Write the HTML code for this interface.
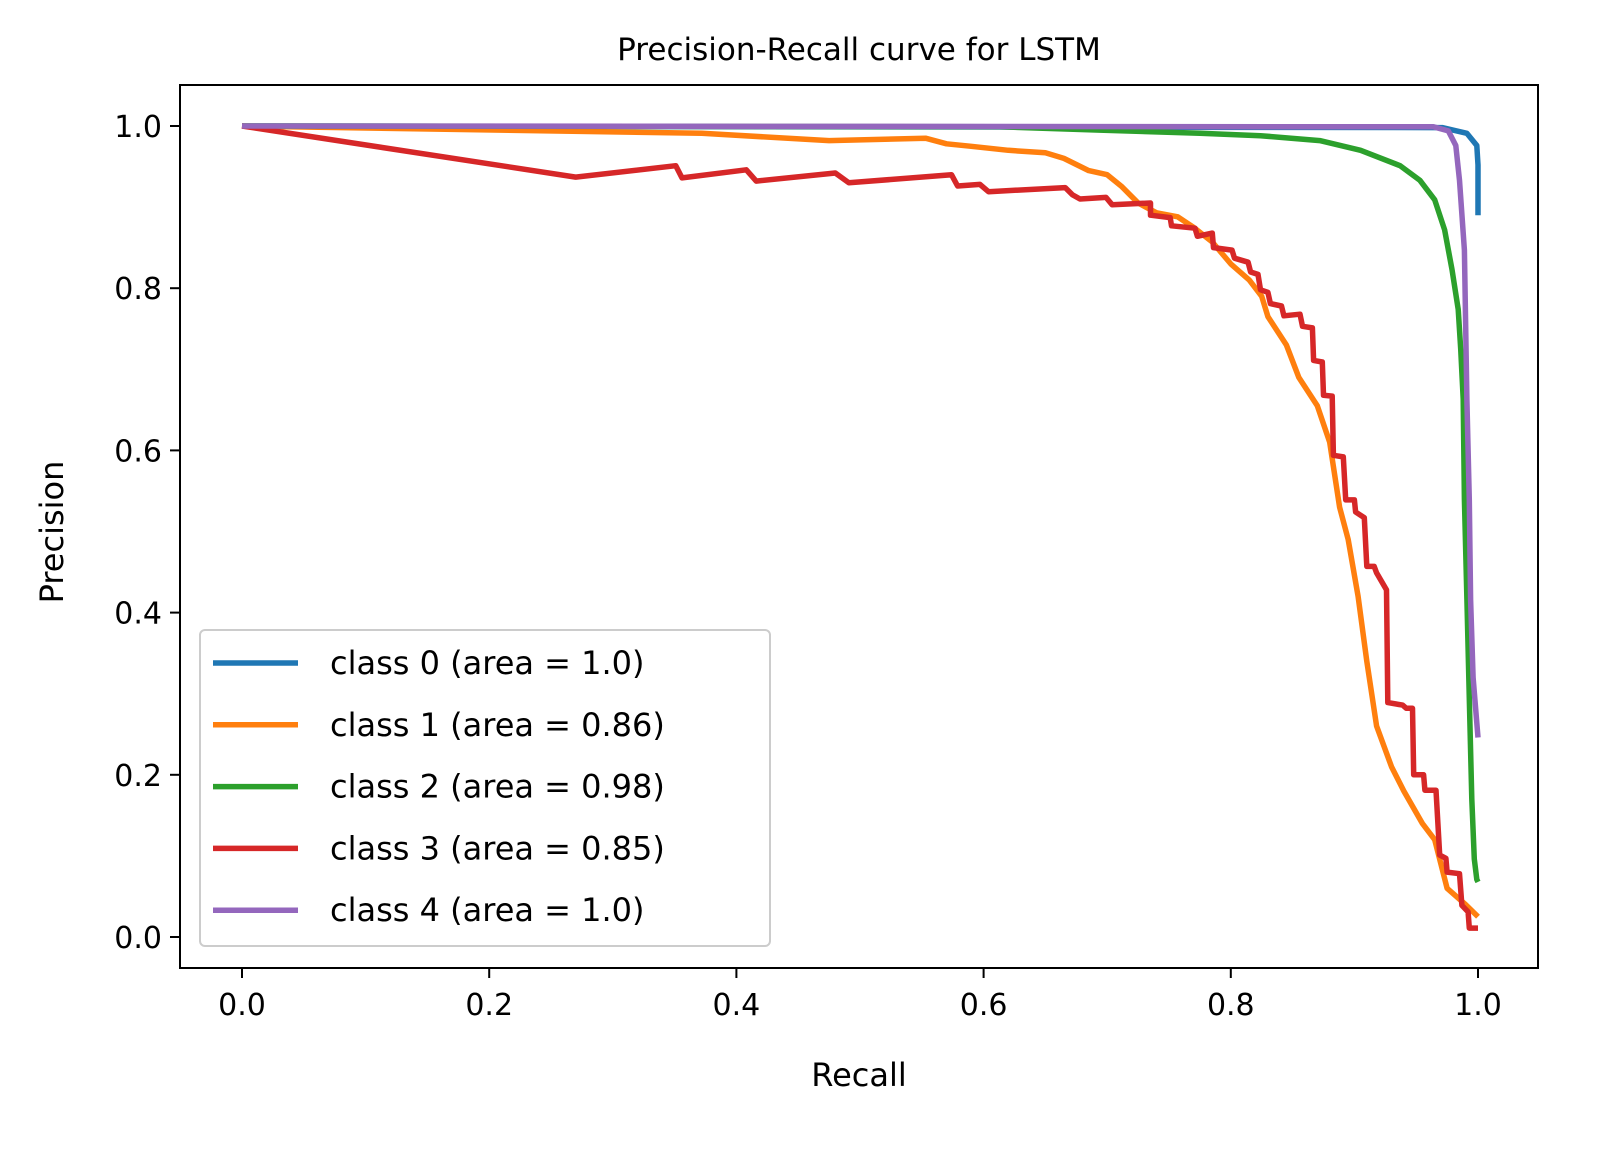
<!DOCTYPE html>
<html><head><meta charset="utf-8"><style>
html,body{margin:0;padding:0;background:#fff;}
svg{display:block;font-family:"DejaVu Sans","Liberation Sans",sans-serif;}
</style></head>
<body>
<svg id="chart" width="1609" height="1153" viewBox="0 0 1609 1153" xmlns="http://www.w3.org/2000/svg">
<rect width="1609" height="1153" fill="#fff"/>
<text x="859" y="60" font-size="31" text-anchor="middle" fill="#000">Precision-Recall curve for LSTM</text>
<text x="859" y="1086" font-size="32" text-anchor="middle" fill="#000">Recall</text>
<text x="0" y="0" font-size="32" text-anchor="middle" fill="#000" transform="translate(63,532) rotate(-90)">Precision</text>
<g id="plot"></g>
</svg>
<script>
const xTicks=[0,0.2,0.4,0.6,0.8,1.0];
const yTicks=[0,0.2,0.4,0.6,0.8,1.0];
const seriesNames=["class 0 (area = 1.0)","class 1 (area = 0.86)","class 2 (area = 0.98)","class 3 (area = 0.85)","class 4 (area = 1.0)"];
const colors=["#1f77b4","#ff7f0e","#2ca02c","#d62728","#9467bd"];
const recall0=[0,0.971,0.991,0.999,1.0,1.0];
const prec0=[1.0,0.998,0.991,0.976,0.952,0.890];
const recall1=[0,0.372,0.475,0.553,0.570,0.59,0.62,0.650,0.665,0.685,0.700,0.712,0.725,0.74,0.757,0.77,0.785,0.800,0.815,0.825,0.830,0.845,0.855,0.87,0.880,0.888,0.895,0.903,0.910,0.918,0.93,0.94,0.955,0.965,0.975,0.99,1.0];
const prec1=[1.0,0.991,0.982,0.985,0.978,0.975,0.970,0.967,0.960,0.945,0.940,0.925,0.905,0.893,0.888,0.875,0.857,0.830,0.810,0.790,0.765,0.730,0.690,0.655,0.610,0.530,0.490,0.420,0.340,0.260,0.21,0.18,0.14,0.12,0.06,0.04,0.025];
const recall2=[0,0.613,0.694,0.775,0.824,0.872,0.905,0.937,0.953,0.965,0.973,0.979,0.984,0.986,0.988,0.989,0.991,0.993,0.995,0.997,0.999,1.0];
const prec2=[1.0,0.999,0.995,0.991,0.988,0.982,0.970,0.951,0.933,0.909,0.872,0.823,0.774,0.725,0.663,0.540,0.417,0.294,0.170,0.096,0.071,0.068];
const recall3=[0,0.270,0.351,0.356,0.408,0.416,0.480,0.491,0.574,0.579,0.597,0.604,0.666,0.672,0.678,0.699,0.704,0.735,0.735,0.751,0.752,0.771,0.773,0.785,0.786,0.801,0.803,0.814,0.816,0.822,0.824,0.830,0.832,0.841,0.843,0.856,0.858,0.866,0.867,0.874,0.875,0.882,0.883,0.891,0.893,0.900,0.901,0.908,0.910,0.916,0.918,0.926,0.927,0.939,0.942,0.947,0.948,0.956,0.957,0.966,0.969,0.974,0.975,0.985,0.987,0.992,0.993,1.0];
const prec3=[1.0,0.937,0.951,0.936,0.946,0.932,0.942,0.930,0.940,0.926,0.928,0.919,0.924,0.915,0.910,0.912,0.903,0.905,0.890,0.887,0.877,0.874,0.864,0.868,0.850,0.847,0.837,0.832,0.820,0.817,0.798,0.795,0.781,0.778,0.766,0.768,0.753,0.751,0.711,0.709,0.668,0.667,0.594,0.592,0.539,0.539,0.524,0.517,0.457,0.457,0.449,0.428,0.289,0.286,0.282,0.282,0.200,0.200,0.181,0.181,0.101,0.097,0.080,0.078,0.039,0.031,0.011,0.011];
const recall4=[0,0.964,0.976,0.982,0.985,0.989,0.991,0.993,0.994,0.996,1.0];
const prec4=[1.0,0.999,0.994,0.976,0.933,0.847,0.662,0.539,0.416,0.320,0.246];

const recalls=[recall0,recall1,recall2,recall3,recall4];
const precs=[prec0,prec1,prec2,prec3,prec4];
const L=180,R=1538,T=85,B=968;
function sx(v){return 242+v*1236;}
function sy(v){return 937-v*811;}
const NS="http://www.w3.org/2000/svg";
const svg=document.getElementById('chart');
const plot=document.getElementById('plot');
function mk(tag,attrs,parent){const e=document.createElementNS(NS,tag);for(const k in attrs)e.setAttribute(k,attrs[k]);(parent||plot).appendChild(e);return e;}
for(let s=0;s<5;s++){
  let d='';
  for(let i=0;i<recalls[s].length;i++){d+=(i?'L':'M')+sx(recalls[s][i]).toFixed(1)+','+sy(precs[s][i]).toFixed(1);}
  const p=mk('path',{d:d,fill:'none',stroke:colors[s],'stroke-width':5.5,'stroke-linejoin':'round'});
  
  
}
const fr=mk('rect',{x:L,y:T,width:R-L,height:B-T,fill:'none',stroke:'#000','stroke-width':2});


xTicks.forEach(v=>{
  const t=mk('line',{x1:sx(v),x2:sx(v),y1:B,y2:B+10,stroke:'#000','stroke-width':2});
  
  
  const l=mk('text',{x:sx(v),y:B+47,'font-size':30,'text-anchor':'middle',fill:'#000'});
  l.textContent=v.toFixed(1);
  
  
});
yTicks.forEach(v=>{
  const t=mk('line',{x1:L-10,x2:L,y1:sy(v),y2:sy(v),stroke:'#000','stroke-width':2});
  
  
  const l=mk('text',{x:L-18,y:sy(v)+11,'font-size':30,'text-anchor':'end',fill:'#000'});
  l.textContent=v.toFixed(1);
  
  
});
const lg=mk('g',{});


const box=mk('rect',{x:200,y:630,width:570,height:316,rx:5,fill:'#fff','fill-opacity':0.8,stroke:'#ccc','stroke-width':2},lg);


seriesNames.forEach((n,i)=>{
  const y=663+i*61.8;
  const ln=mk('line',{x1:213,x2:298,y1:y,y2:y,stroke:colors[i],'stroke-width':5.5},lg);
  
  
  const tx=mk('text',{x:330,y:y+11,'font-size':32,fill:'#000'},lg);
  tx.textContent=n;
  
  
});
</script>
</body></html>
